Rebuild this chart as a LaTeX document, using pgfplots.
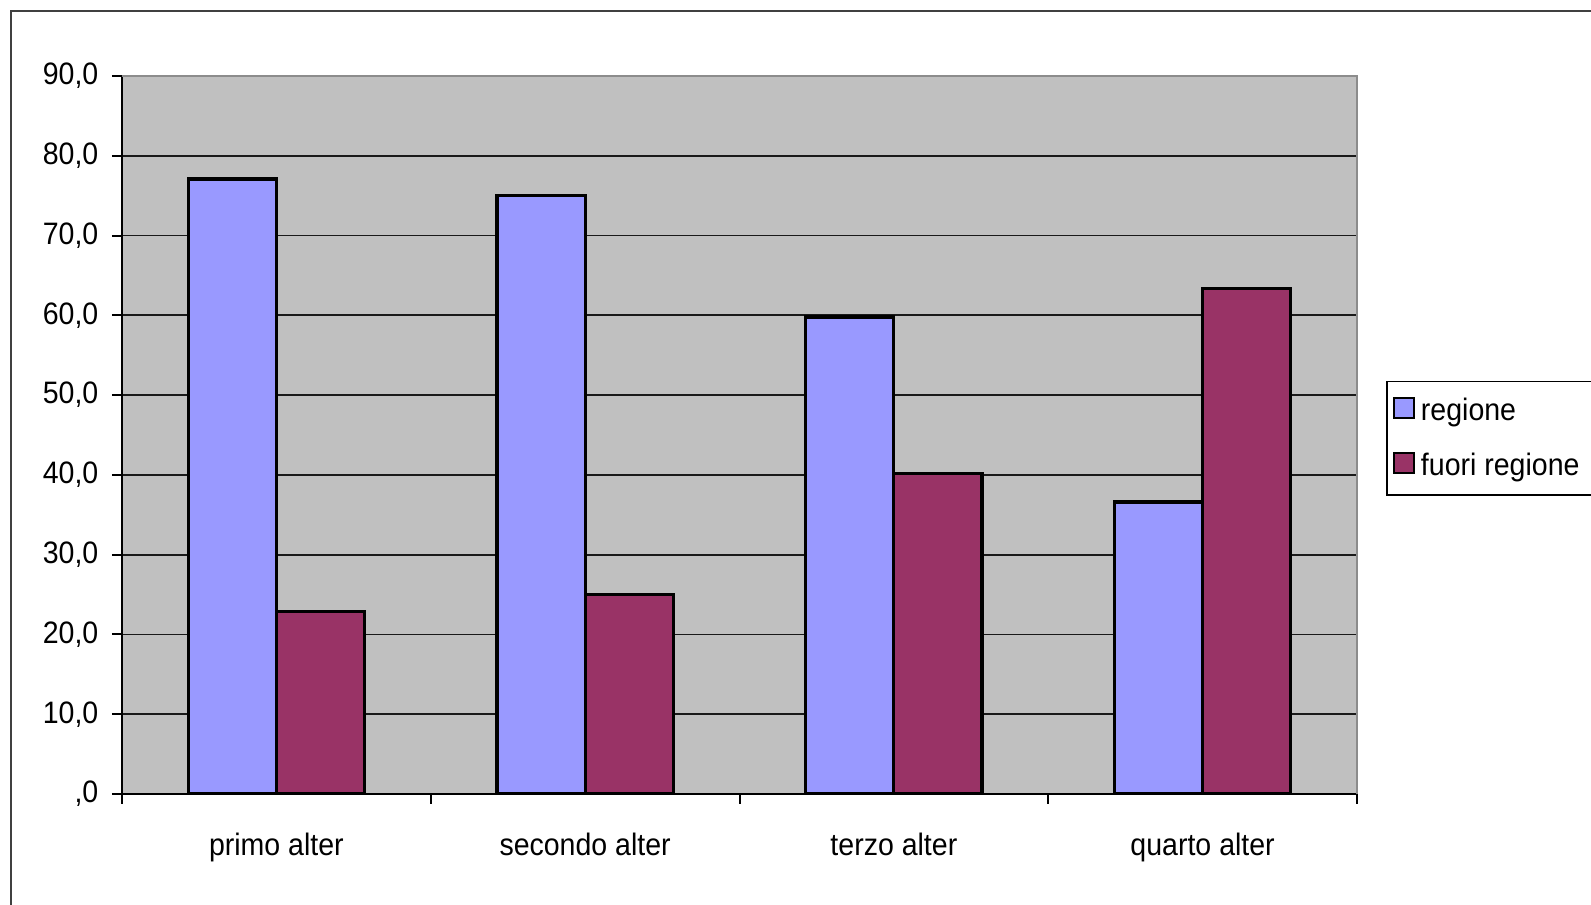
\documentclass[border=0pt]{standalone}
\usepackage{pgfplots}
\pgfplotsset{compat=1.18}
\usepackage{fontspec}
\setmainfont{Liberation Sans}[FakeStretch=0.92]
\definecolor{plotbg}{HTML}{C0C0C0}
\definecolor{regione}{HTML}{9999FF}
\definecolor{fuori}{HTML}{993366}
\newcommand{\chartfont}{\fontsize{15.5}{18}\selectfont}
\begin{document}
\begin{tikzpicture}[x=0.5pt,y=0.5pt]
\useasboundingbox (0,0) rectangle (1591,905);
% outer chart frame
\draw[line width=1pt,black!75] (11,-10) -- (11,894) -- (1620,894);
\begin{axis}[
  at={(61pt,55.5pt)}, anchor=south west,
  scale only axis, width=617.5pt, height=359pt,
  ybar=0pt, bar width=0.2857,
  xmin=-0.5, xmax=3.5, ymin=0, ymax=90,
  axis background/.style={fill=plotbg},
  axis x line*=bottom, axis y line*=left,
  axis line style={line width=1pt,black},
  ytick={0,10,...,90},
  yticklabels={{,0},{10,0},{20,0},{30,0},{40,0},{50,0},{60,0},{70,0},{80,0},{90,0}},
  xtick={-0.5,0.5,1.5,2.5,3.5},
  x tick label as interval,
  xticklabels={primo alter,secondo alter,terzo alter,quarto alter},
  tick align=outside,
  tick style={black,line width=1pt},
  major tick length=5pt,
  ymajorgrids,
  grid style={black!90,line width=0.9pt},
  tick label style={font=\chartfont},
  /pgf/number format/assume math mode=true,
  yticklabel style={anchor=east,xshift=-3.3pt},
  xticklabel style={anchor=base,yshift=-25.5pt},
  legend style={at={(1.0235,0.5756)}, anchor=north west, draw=black,
    line width=0.75pt, fill=white, font=\chartfont,
    inner xsep=3pt, inner ysep=6.3pt, row sep=10.7pt,
    legend cell align=left,
    nodes={inner xsep=3pt}},
  legend image code/.code={\draw[#1,line width=1.1pt] (0pt,-3.8pt) rectangle (10pt,6.2pt);},
  after end axis/.code={
    \draw[line width=1pt,black!45] (rel axis cs:0,1) -- (rel axis cs:1,1) -- (rel axis cs:1,0);
  },
]
\addplot[fill=regione,draw=black,line width=1.6pt,bar shift=-0.14286]
  coordinates {(0,77.1) (1,75.0) (2,59.8) (3,36.6)};
\addlegendentry{regione}
\addplot[fill=fuori,draw=black,line width=1.6pt,bar shift=0.14286]
  coordinates {(0,22.9) (1,25.0) (2,40.2) (3,63.4)};
\addlegendentry{fuori regione}
\end{axis}
\end{tikzpicture}
\end{document}
